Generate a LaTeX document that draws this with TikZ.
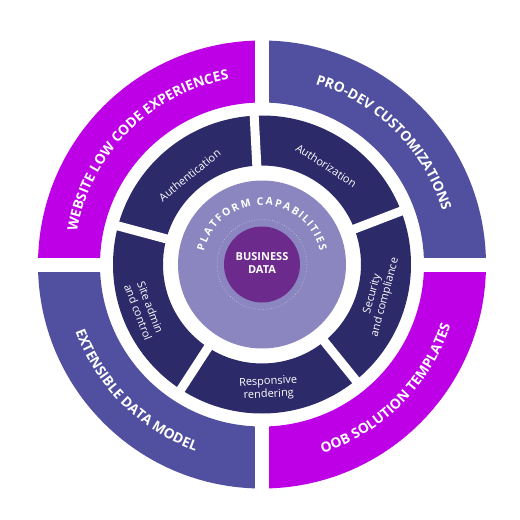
\documentclass[tikz,border=0pt]{standalone}
\usepackage{fontspec}
\setmainfont{Open Sans}
\usepackage{tikz}
\usetikzlibrary{decorations.text}
\definecolor{magentaband}{HTML}{BE00E6}
\definecolor{violetband}{HTML}{5150A0}
\definecolor{navyband}{HTML}{2D2A6A}
\definecolor{lilac}{HTML}{8C86C0}
\definecolor{plum}{HTML}{6C2A8C}

\tikzset{
  bandtext/.style={decorate, decoration={text along path, text align=center, text color=white,
    text={|\bfseries\fontsize{13.8}{14}\selectfont|#1}}}
}

\begin{document}
\begin{tikzpicture}[x=1pt, y=1pt, every node/.style={font=\fontsize{11}{13}\selectfont, text=white, align=center, inner sep=0pt}]
  \fill[white] (-262,-255.5) rectangle (258,264.5);
  % outer quadrants
  \foreach \a/\col in {0/violetband,90/magentaband,180/violetband,270/magentaband} {
    \fill[\col] (\a:224) arc[start angle=\a, delta angle=90, radius=224]
      -- ({\a+90}:162) arc[start angle={\a+90}, delta angle=-90, radius=162] -- cycle;
  }
  \draw[white, line width=14] (-230,0) -- (230,0) (0,-230) -- (0,230);
  % capability ring
  \fill[navyband, even odd rule] (0,0) circle[radius=149] (0,0) circle[radius=99];
  \foreach \g in {21,93,165,237,309}
    \draw[white, line width=9] (\g:95) -- (\g:153);
  \fill[lilac] (0,0) circle[radius=84];
  \draw[white!55!lilac, dotted, line width=0.6] (0,0) circle[radius=45];
  \fill[plum] (0,0) circle[radius=38];
  \node[font=\bfseries\fontsize{11}{13}\selectfont] (data) at (0,1) {BUSINESS\\DATA};
  \foreach \name/\ang/\r/\rot/\txt in {auth/129/115/39/Authentication, authz/57/118/-33/Authorization,
      sec/345/121/75/{Security\\and compliance}, resp/273/124/3/{Responsive\\rendering},
      site/201/126/-69/{Site admin\\and control}}
    \node[rotate=\rot] (\name) at (\ang:\r) {\txt};
  % curved labels
  \path[bandtext=WEBSITE LOW CODE EXPERIENCES] (180:188) arc[start angle=180, end angle=90, radius=188];
  \path[bandtext=PRO-DEV CUSTOMIZATIONS] (90:188) arc[start angle=90, end angle=0, radius=188];
  \path[bandtext=EXTENSIBLE DATA MODEL] (180:198) arc[start angle=180, end angle=270, radius=198];
  \path[bandtext=OOB SOLUTION TEMPLATES] (270:198) arc[start angle=270, end angle=360, radius=198];
  \path[decorate, decoration={text effects along path, text={PLATFORM CAPABILITIES},
      text effects/.cd, text along path, fit text to path,
      characters={text=white, font=\bfseries\fontsize{10.5}{12}\selectfont}}]
    (167:59.5) arc[start angle=167, end angle=13, radius=59.5];
\end{tikzpicture}
\end{document}
